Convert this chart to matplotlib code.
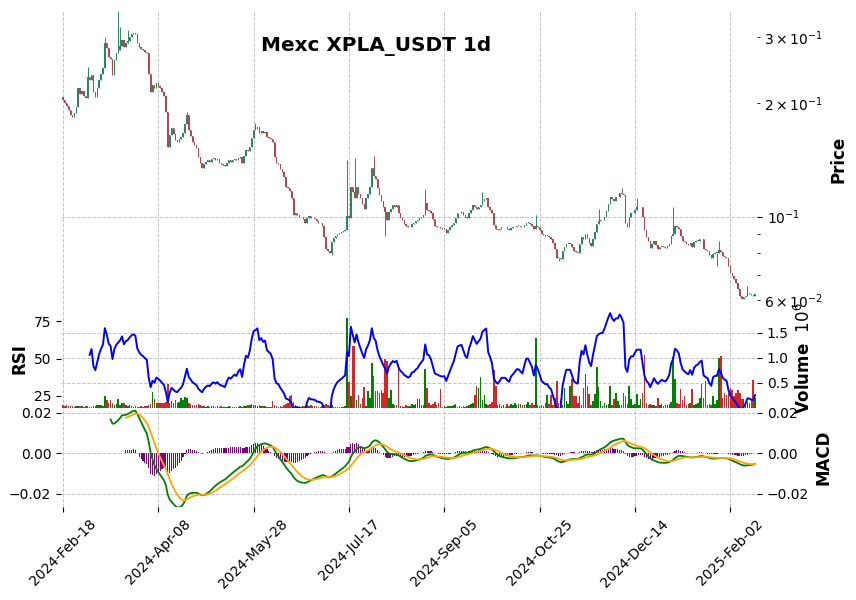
import numpy as np
import pandas as pd
import matplotlib
matplotlib.use("Agg")
import matplotlib.pyplot as plt

# daily candles, Mexc XPLA_USDT, first bar 2024-02-18
START = "2024-02-18"
FIRST_OPEN = 0.208

close = [
    0.204, 0.200, 0.197, 0.192, 0.186, 0.184, 0.188, 0.196, 0.219, 0.212,
    0.216, 0.209, 0.207, 0.235, 0.230, 0.238, 0.215, 0.208, 0.219, 0.231,
    0.240, 0.248, 0.289, 0.280, 0.266, 0.262, 0.238, 0.261, 0.272, 0.278,
    0.284, 0.295, 0.282, 0.290, 0.293, 0.300, 0.305, 0.308, 0.306, 0.289,
    0.283, 0.279, 0.277, 0.274, 0.272, 0.240, 0.215, 0.224, 0.219, 0.226,
    0.223, 0.219, 0.214, 0.209, 0.190, 0.153, 0.165, 0.172, 0.166, 0.160,
    0.158, 0.161, 0.163, 0.167, 0.176, 0.186, 0.170, 0.164, 0.158, 0.155,
    0.152, 0.144, 0.139, 0.135, 0.138, 0.140, 0.141, 0.140, 0.142, 0.143,
    0.141, 0.142, 0.139, 0.138, 0.137, 0.136, 0.139, 0.141, 0.140, 0.141,
    0.142, 0.141, 0.143, 0.144, 0.139, 0.145, 0.150, 0.149, 0.153, 0.162,
    0.170, 0.171, 0.173, 0.167, 0.169, 0.167, 0.168, 0.163, 0.162, 0.161,
    0.158, 0.144, 0.139, 0.138, 0.134, 0.131, 0.127, 0.120, 0.119, 0.117,
    0.112, 0.101, 0.102, 0.101, 0.100, 0.0994, 0.0985, 0.0964, 0.0990, 0.1006,
    0.0990, 0.0988, 0.0985, 0.0970, 0.0964, 0.0960, 0.0946, 0.0880, 0.0822, 0.0810,
    0.0802, 0.0853, 0.0875, 0.0890, 0.0900, 0.0905, 0.0910, 0.0915, 0.0920, 0.1006,
    0.0990, 0.1200, 0.1160, 0.1120, 0.1195, 0.1150, 0.1117, 0.108, 0.105, 0.1117,
    0.115, 0.120, 0.1343, 0.128, 0.126, 0.119, 0.114, 0.110, 0.106, 0.1025,
    0.0976, 0.1025, 0.105, 0.107, 0.106, 0.107, 0.102, 0.099, 0.0976, 0.0955,
    0.0946, 0.0935, 0.0940, 0.0958, 0.0960, 0.0970, 0.0976, 0.0990, 0.1000, 0.1010,
    0.1083, 0.1040, 0.1037, 0.1019, 0.0985, 0.0946, 0.0940, 0.0935, 0.0930, 0.0928,
    0.0929, 0.0906, 0.0920, 0.0935, 0.0950, 0.0964, 0.0990, 0.1019, 0.1022, 0.1025,
    0.1010, 0.0994, 0.0988, 0.1019, 0.104, 0.107, 0.106, 0.105, 0.106, 0.107,
    0.110, 0.111, 0.1117, 0.1057, 0.104, 0.1019, 0.0950, 0.0929, 0.0918, 0.0925,
    0.0935, 0.0935, 0.0935, 0.0925, 0.0918, 0.0930, 0.0935, 0.0940, 0.0946, 0.0946,
    0.0940, 0.0935, 0.0950, 0.0964, 0.0964, 0.0955, 0.0946, 0.0925, 0.0945, 0.0935,
    0.0920, 0.0901, 0.0895, 0.0890, 0.0890, 0.0880, 0.0874, 0.0850, 0.0822, 0.0777,
    0.0775, 0.0773, 0.0811, 0.0830, 0.0847, 0.0847, 0.0847, 0.0830, 0.0811, 0.0805,
    0.0802, 0.0847, 0.0880, 0.0870, 0.0901, 0.0875, 0.0850, 0.0837, 0.0874, 0.0910,
    0.0958, 0.0970, 0.0976, 0.0976, 0.1000, 0.1037, 0.1080, 0.1124, 0.1110, 0.1103,
    0.1124, 0.1124, 0.1158, 0.1150, 0.1138, 0.0964, 0.0935, 0.1000, 0.1019, 0.1019,
    0.1040, 0.1057, 0.1057, 0.1057, 0.0994, 0.0918, 0.0880, 0.0863, 0.0827, 0.0845,
    0.0863, 0.0840, 0.0822, 0.0830, 0.0837, 0.0830, 0.0827, 0.0835, 0.0847, 0.0885,
    0.0901, 0.0946, 0.0940, 0.0929, 0.0890, 0.0863, 0.0853, 0.0845, 0.0840, 0.0852,
    0.0832, 0.0853, 0.0860, 0.0863, 0.0870, 0.0874, 0.0822, 0.0815, 0.0811, 0.0790,
    0.0777, 0.0797, 0.0800, 0.0800, 0.0815, 0.0805, 0.0787, 0.0780, 0.0777, 0.0740,
    0.0709, 0.0695, 0.0683, 0.0665, 0.0640, 0.0616, 0.0605, 0.0610, 0.0616, 0.0625,
    0.0623, 0.0618, 0.0616, 0.0623,
]

# volume in millions
volume_m = [
    0.05, 0.04, 0.05, 0.04, 0.04, 0.03, 0.02, 0.03, 0.04, 0.03,
    0.03, 0.02, 0.03, 0.04, 0.02, 0.02, 0.03, 0.04, 0.05, 0.06,
    0.05, 0.03, 0.24, 0.15, 0.10, 0.15, 0.10, 0.06, 0.08, 0.17,
    0.06, 0.10, 0.09, 0.05, 0.04, 0.06, 0.03, 0.02, 0.03, 0.01,
    0.02, 0.03, 0.02, 0.03, 0.03, 0.05, 0.07, 0.31, 0.17, 0.10,
    0.10, 0.10, 0.10, 0.10, 0.12, 0.48, 0.10, 0.14, 0.10, 0.15,
    0.10, 0.12, 0.20, 0.15, 0.22, 0.20, 0.10, 0.07, 0.06, 0.05,
    0.06, 0.08, 0.05, 0.03, 0.03, 0.02, 0.04, 0.02, 0.03, 0.04,
    0.02, 0.03, 0.02, 0.03, 0.02, 0.01, 0.02, 0.03, 0.02, 0.01,
    0.02, 0.01, 0.02, 0.03, 0.02, 0.03, 0.04, 0.06, 0.05, 0.08,
    0.06, 0.05, 0.04, 0.05, 0.03, 0.04, 0.03, 0.02, 0.02, 0.01,
    0.14, 0.06, 0.04, 0.02, 0.03, 0.02, 0.05, 0.08, 0.10, 0.24,
    0.25, 0.12, 0.06, 0.04, 0.03, 0.02, 0.03, 0.04, 0.06, 0.04,
    0.05, 0.03, 0.04, 0.03, 0.02, 0.02, 0.03, 0.06, 0.07, 0.05,
    0.03, 0.05, 0.02, 0.01, 0.02, 0.01, 0.02, 0.01, 0.03, 1.80,
    0.51, 0.24, 1.24, 1.24, 0.15, 0.25, 0.08, 0.20, 0.41, 0.03,
    0.33, 0.20, 0.90, 0.64, 0.33, 0.33, 0.30, 0.35, 0.30, 0.97,
    0.93, 0.20, 0.35, 0.08, 0.05, 0.06, 0.88, 0.04, 0.03, 0.02,
    0.05, 0.03, 0.04, 0.08, 0.06, 0.08, 0.18, 0.17, 0.06, 0.05,
    0.78, 0.40, 0.10, 0.06, 0.08, 0.12, 0.06, 0.10, 0.37, 0.02,
    0.03, 0.02, 0.03, 0.04, 0.03, 0.06, 0.08, 0.02, 0.03, 0.02,
    0.03, 0.02, 0.04, 0.06, 0.08, 0.10, 0.25, 0.43, 0.40, 0.61,
    0.15, 0.25, 0.08, 0.05, 0.07, 0.12, 0.75, 0.43, 0.05, 0.08,
    0.03, 0.06, 0.02, 0.07, 0.04, 0.08, 0.05, 0.10, 0.05, 0.08,
    0.07, 0.05, 0.06, 0.08, 0.12, 0.05, 0.10, 0.06, 1.39, 0.06,
    0.04, 0.05, 0.03, 0.10, 0.26, 0.08, 0.26, 0.06, 0.20, 0.54,
    0.10, 0.17, 0.06, 0.40, 0.14, 0.08, 0.43, 0.57, 0.24, 0.24,
    0.10, 0.24, 0.06, 0.40, 0.68, 0.43, 0.27, 0.05, 0.14, 0.27,
    0.82, 0.41, 0.14, 0.04, 0.10, 0.05, 0.08, 0.43, 0.05, 0.17,
    0.30, 0.14, 0.05, 0.06, 0.30, 0.24, 0.08, 0.43, 0.17, 0.05,
    0.08, 0.27, 0.06, 0.17, 0.30, 1.06, 0.10, 0.06, 0.08, 0.05,
    0.06, 0.04, 0.20, 0.05, 0.08, 0.03, 0.06, 0.05, 0.08, 0.12,
    1.02, 0.57, 0.10, 0.08, 0.37, 0.15, 0.24, 0.06, 0.08, 0.10,
    0.37, 0.05, 0.08, 0.10, 0.20, 0.47, 0.20, 0.53, 0.06, 0.08,
    0.05, 0.24, 0.08, 0.15, 1.00, 1.03, 0.20, 0.30, 0.25, 0.30,
    0.40, 0.35, 0.24, 0.30, 0.35, 0.30, 0.17, 0.17, 0.10, 0.12,
    0.10, 0.15, 0.55, 0.20,
]

# the long wicks that stand out (bar index -> price)
wick_high = {13: 0.250, 22: 0.300, 29: 0.352, 30: 0.319, 34: 0.313, 65: 0.190,
             101: 0.177, 149: 0.141, 153: 0.143, 163: 0.145, 190: 0.118,
             220: 0.116, 248: 0.1012, 281: 0.105, 293: 0.119, 301: 0.1117,
             320: 0.1063, 344: 0.0863, 359: 0.0655}
wick_low = {141: 0.0792, 169: 0.089, 260: 0.0763, 343: 0.074}

UP, DOWN = "#2f8560", "#b3464f"
VOL_UP, VOL_DOWN = "green", "#d62728"
GRID = "#c4c4c4"

n = len(close)
idx = np.arange(n)
dates = pd.date_range(START, periods=n, freq="D")
c = np.array(close)
o = np.r_[FIRST_OPEN, c[:-1]]          # 24h market: open = previous close
hi = np.maximum(o, c)
lo = np.minimum(o, c)
for k, v in wick_high.items():
    hi[k] = max(hi[k], v)
for k, v in wick_low.items():
    lo[k] = min(lo[k], v)
up = c >= o

# indicators
s = pd.Series(c)
d = s.diff()
gain = d.clip(lower=0).ewm(alpha=1 / 14, adjust=False, min_periods=14).mean()
loss = (-d.clip(upper=0)).ewm(alpha=1 / 14, adjust=False, min_periods=14).mean()
rsi = 100 - 100 / (1 + gain / loss)
macd = s.ewm(span=12, adjust=False).mean() - s.ewm(span=26, adjust=False).mean()
macd[:25] = np.nan
signal = macd.ewm(span=9, adjust=False, min_periods=9).mean()
hist = macd - signal

fig = plt.figure(figsize=(8.56, 6), dpi=100)
gs = fig.add_gridspec(3, 1, height_ratios=[3, 1, 1], hspace=0,
                      left=61 / 856, right=757 / 856,
                      top=1 - 11 / 600, bottom=1 - 507 / 600)
ax_p = fig.add_subplot(gs[0])
ax_v = fig.add_subplot(gs[1], sharex=ax_p)
ax_m = fig.add_subplot(gs[2], sharex=ax_p)
ax_r = ax_v.twinx()
ax_m2 = ax_m.twinx()

# candles
body_h = np.maximum(np.abs(c - o), c * 0.004)
cols = np.where(up, UP, DOWN)
ax_p.vlines(idx, lo, hi, colors=cols, linewidth=0.7, zorder=2)
ax_p.bar(idx, body_h, bottom=np.minimum(o, c), width=0.7, color=cols,
         linewidth=0, zorder=3)
ax_p.set_yscale("log")
ax_p.set_ylim(0.0569, 0.352)
ax_p.yaxis.tick_right()
ax_p.yaxis.set_label_position("right")
ax_p.set_ylabel("Price", fontsize=12, fontweight="bold", labelpad=4)

# volume (right) + RSI (left) share the middle panel
ax_v.bar(idx, volume_m, width=0.8, color=np.where(up, VOL_UP, VOL_DOWN), linewidth=0)
ax_v.set_ylim(0.3 * min(volume_m), 1.1 * max(volume_m))
ax_v.set_yticks([0.5, 1.0, 1.5])
ax_v.yaxis.tick_right()
ax_v.yaxis.set_label_position("right")
ax_v.set_ylabel("Volume  $10^{6}$", fontsize=12, fontweight="bold")

ax_r.plot(idx, rsi, color="blue", linewidth=1.4)
ax_r.set_ylim(17, 83.5)
ax_r.set_yticks([25, 50, 75])
ax_r.yaxis.tick_left()
ax_r.yaxis.set_label_position("left")
ax_r.set_ylabel("RSI", fontsize=12, fontweight="bold")

# MACD
ax_m.bar(idx, hist, width=0.6, color="purple", linewidth=0)
ax_m.plot(idx, macd, color="green", linewidth=1.3)
ax_m.plot(idx, signal, color="orange", linewidth=1.3)
mlim = (-0.0266, 0.0224)
ax_m.set_ylim(*mlim)
ax_m.set_yticks([-0.02, 0.0, 0.02])
ax_m2.set_ylim(*mlim)
ax_m2.set_yticks([-0.02, 0.0, 0.02])
ax_m2.set_ylabel("MACD", fontsize=12, fontweight="bold")

ax_p.set_xlim(-1, n)
ticks = idx[::50]
ax_m.set_xticks(ticks)
ax_m.set_xticklabels([dates[i].strftime("%Y-%b-%d") for i in ticks], rotation=45)

for ax in (ax_p, ax_v):
    ax.tick_params(axis="x", bottom=False, labelbottom=False)
for ax in (ax_p, ax_v, ax_r, ax_m, ax_m2):
    for sp in ax.spines.values():
        sp.set_visible(False)
    ax.tick_params(labelsize=10)
for ax in (ax_p, ax_v, ax_m):
    ax.grid(True, which="major", linestyle="--", linewidth=0.7, color=GRID)
    ax.set_axisbelow(True)

fig.text(376 / 856, 1 - 46 / 600, "Mexc XPLA_USDT 1d", ha="center", va="center",
         fontsize=14.4, fontweight="bold")

fig.savefig("out.png", dpi=100)
